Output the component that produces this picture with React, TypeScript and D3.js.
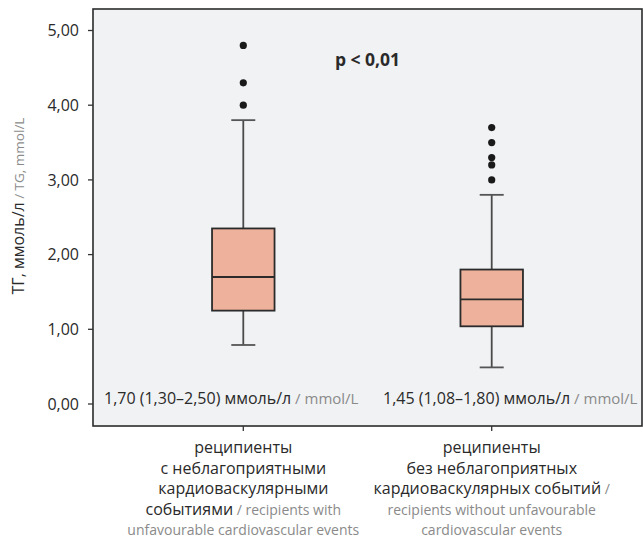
import React from "react";
import * as d3 from "d3";

const categories = ["with", "without"];
const q1 = [1.25, 1.04];
const median = [1.7, 1.4];
const q3 = [2.35, 1.8];
const whiskerLow = [0.79, 0.49];
const whiskerHigh = [3.8, 2.8];
const outliers = [
  [4.0, 4.3, 4.8],
  [3.0, 3.2, 3.3, 3.5, 3.7],
];
const yTicks = [0, 1, 2, 3, 4, 5];
const summaryRu = ["1,70 (1,30–2,50) ммоль/л", "1,45 (1,08–1,80) ммоль/л"];
const summaryEn = " / mmol/L";
const pText = "p < 0,01";

type Seg = { t: string; en?: boolean };
const xLabelLines: Seg[][][] = [
  [
    [{ t: "реципиенты" }],
    [{ t: "с неблагоприятными" }],
    [{ t: "кардиоваскулярными" }],
    [{ t: "событиями" }, { t: " / recipients with", en: true }],
    [{ t: "unfavourable cardiovascular events", en: true }],
  ],
  [
    [{ t: "реципиенты" }],
    [{ t: "без неблагоприятных" }],
    [{ t: "кардиоваскулярных событий" }, { t: " /", en: true }],
    [{ t: "recipients without unfavourable", en: true }],
    [{ t: "cardiovascular events", en: true }],
  ],
];

const W = 643;
const H = 538;
const frame = { left: 93, right: 642, top: 9, bottom: 426 };
const FONT = "'Open Sans', 'Noto Sans', sans-serif";
const DARK = "#2a2a2a";
const GRAY = "#8a8a8a";

export default function App() {
  const x = d3
    .scalePoint<string>()
    .domain(categories)
    .range([frame.left, frame.right])
    .padding(0.605);
  const y = d3.scaleLinear().domain([0, 5]).range([404, 30.5]);
  const fmt = (v: number) => d3.format(".2f")(v).replace(".", ",");
  const boxW = 62.5;
  const capW = 24;

  return (
    <svg
      width={W}
      height={H}
      style={{ position: "absolute", left: 0, top: 0, fontFamily: FONT }}
    >
      <rect x={0} y={0} width={W} height={H} fill="#ffffff" />
      <rect
        x={frame.left}
        y={frame.top}
        width={frame.right - frame.left}
        height={frame.bottom - frame.top}
        fill="#f1f2f4"
        stroke="#2b2b2b"
        strokeWidth={1.6}
      />
      {yTicks.map((t) => (
        <g key={t}>
          <line
            x1={frame.left - 5}
            x2={frame.left}
            y1={y(t)}
            y2={y(t)}
            stroke="#333"
            strokeWidth={1.3}
          />
          <text
            x={frame.left - 14}
            y={y(t)}
            dy="0.35em"
            textAnchor="end"
            fontSize={16}
            fill={DARK}
          >
            {fmt(t)}
          </text>
        </g>
      ))}
      <text
        transform={`translate(24, ${y(2.65)}) rotate(-90)`}
        textAnchor="middle"
        fontSize={16}
        fill={DARK}
      >
        <tspan>ТГ, ммоль/л</tspan>
        <tspan fill={GRAY} fontSize={13.5}>
          {" / TG, mmol/L"}
        </tspan>
      </text>
      <text
        x={(frame.left + frame.right) / 2}
        y={y(4.52)}
        textAnchor="middle"
        fontSize={17.5}
        fontWeight="bold"
        fill={DARK}
      >
        {pText}
      </text>
      {categories.map((c, i) => {
        const cx = x(c) as number;
        return (
          <g key={c}>
            <line
              x1={cx}
              x2={cx}
              y1={y(whiskerHigh[i])}
              y2={y(q3[i])}
              stroke="#4a4a4a"
              strokeWidth={1.8}
            />
            <line
              x1={cx}
              x2={cx}
              y1={y(q1[i])}
              y2={y(whiskerLow[i])}
              stroke="#4a4a4a"
              strokeWidth={1.8}
            />
            <line
              x1={cx - capW / 2}
              x2={cx + capW / 2}
              y1={y(whiskerHigh[i])}
              y2={y(whiskerHigh[i])}
              stroke="#555"
              strokeWidth={1.8}
            />
            <line
              x1={cx - capW / 2}
              x2={cx + capW / 2}
              y1={y(whiskerLow[i])}
              y2={y(whiskerLow[i])}
              stroke="#555"
              strokeWidth={1.8}
            />
            <rect
              x={cx - boxW / 2}
              y={y(q3[i])}
              width={boxW}
              height={y(q1[i]) - y(q3[i])}
              fill="#eeb29c"
              stroke="#2b2b2b"
              strokeWidth={1.8}
            />
            <line
              x1={cx - boxW / 2}
              x2={cx + boxW / 2}
              y1={y(median[i])}
              y2={y(median[i])}
              stroke="#2b2b2b"
              strokeWidth={1.8}
            />
            {outliers[i].map((o, k) => (
              <circle key={k} cx={cx} cy={y(o)} r={3.6} fill="#1a1a1a" />
            ))}
            <line
              x1={cx}
              x2={cx}
              y1={frame.bottom}
              y2={frame.bottom + 5}
              stroke="#333"
              strokeWidth={1.3}
            />
            <text textAnchor="middle" fontSize={16} fill={DARK}>
              {xLabelLines[i].map((line, li) => (
                <tspan key={li} x={cx} y={frame.bottom + 27 + li * 20.6}>
                  {line.map((s, si) => (
                    <tspan
                      key={si}
                      fill={s.en ? GRAY : DARK}
                      fontSize={s.en ? 14 : 16}
                    >
                      {s.t}
                    </tspan>
                  ))}
                </tspan>
              ))}
            </text>
          </g>
        );
      })}
      {summaryRu.map((s, i) => (
        <text
          key={i}
          x={i === 0 ? frame.left + 11 : frame.left + 290}
          y={y(0)}
          fontSize={16}
          fill={DARK}
        >
          <tspan>{s}</tspan>
          <tspan fill={GRAY} fontSize={15}>
            {summaryEn}
          </tspan>
        </text>
      ))}
    </svg>
  );
}
